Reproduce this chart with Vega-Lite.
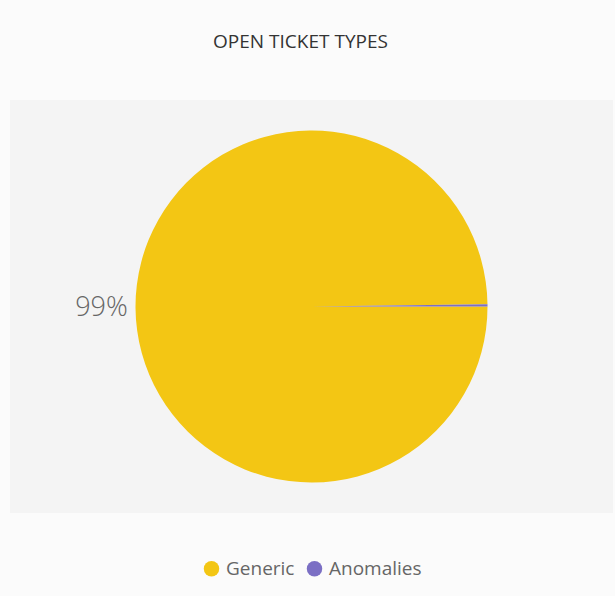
{
  "$schema": "https://vega.github.io/schema/vega-lite/v6.json",
  "width": 603,
  "height": 413,
  "autosize": {"type": "none"},
  "padding": {"left": 10, "top": 100, "right": 2, "bottom": 83},
  "background": "#fbfbfb",
  "view": {"fill": "#f4f4f4", "stroke": null},
  "config": {
    "view": {"fill": "#f4f4f4", "stroke": null},
    "legend": {"layout": {"bottom": {"anchor": "middle"}}}
  },
  "title": {
    "text": "OPEN TICKET TYPES",
    "anchor": "middle",
    "font": "Open Sans",
    "fontSize": 19,
    "fontWeight": "normal",
    "color": "#333333",
    "offset": 48,
    "dx": -11
  },
  "data": {
    "values": [
      {"type": "Generic", "idx": 1, "value": 99.8, "label": "99%"},
      {"type": "Anomalies", "idx": 2, "value": 0.2, "label": ""}
    ]
  },
  "layer": [
    {
      "mark": {"type": "arc", "outerRadius": 176},
      "encoding": {
        "theta": {
          "field": "value",
          "type": "quantitative",
          "stack": true,
          "scale": {"range": [1.5708, 7.854]}
        },
        "order": {"field": "idx", "type": "quantitative"},
        "color": {
          "field": "type",
          "type": "nominal",
          "scale": {"domain": ["Generic", "Anomalies"], "range": ["#f3c614", "#7b6fc4"]},
          "legend": {
            "title": null,
            "orient": "bottom",
            "direction": "horizontal",
            "offset": 46,
            "symbolType": "circle",
            "symbolSize": 240,
            "symbolStrokeWidth": 0,
            "labelFont": "Open Sans",
            "labelFontSize": 19,
            "labelColor": "#666666",
            "columnPadding": 10,
            "labelOffset": 5
          }
        }
      }
    },
    {
      "mark": {"type": "text", "radius": 210, "font": "Open Sans", "fontSize": 27, "fontWeight": 300, "color": "#666666"},
      "encoding": {
        "theta": {
          "field": "value",
          "type": "quantitative",
          "stack": true
        },
        "order": {"field": "idx", "type": "quantitative"},
        "text": {"field": "label"}
      }
    }
  ]
}
